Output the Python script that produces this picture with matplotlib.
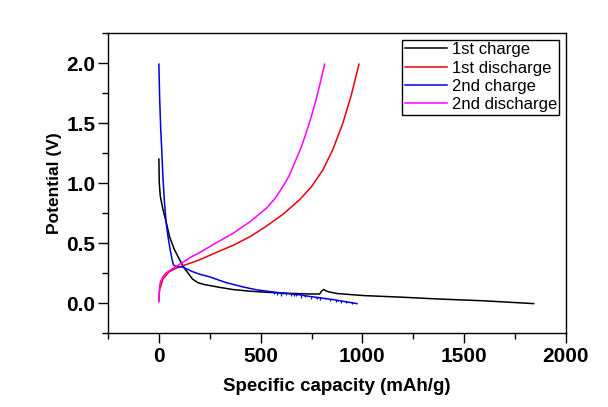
import numpy as np
import matplotlib
matplotlib.use("Agg")
import matplotlib.pyplot as plt
from matplotlib.ticker import MultipleLocator, FormatStrFormatter

plt.rcParams['font.family'] = ['Liberation Sans', 'DejaVu Sans']

# 1st charge
c1_x = [0, 2, 7, 20, 35, 53, 75, 102, 125, 143, 165, 191, 220, 249, 300, 364, 450,
        544, 650, 750, 790, 800, 809, 830, 875, 1006, 1200, 1366, 1600, 1841]
c1_y = [1.20, 1.00, 0.89, 0.78, 0.68, 0.55, 0.45, 0.36, 0.29, 0.25, 0.20, 0.17, 0.155,
        0.146, 0.13, 0.112, 0.098, 0.088, 0.08, 0.075, 0.075, 0.10, 0.112, 0.095, 0.079,
        0.062, 0.048, 0.034, 0.018, -0.005]

# 1st discharge
d1_x = [0, 2, 5, 20, 50, 85, 150, 200, 280, 364, 450, 528, 610, 691, 750, 806, 855,
        904, 945, 983]
d1_y = [0.02, 0.08, 0.12, 0.20, 0.26, 0.29, 0.33, 0.36, 0.42, 0.48, 0.555, 0.64, 0.74,
        0.86, 0.97, 1.11, 1.28, 1.50, 1.73, 1.99]

# 2nd charge
c2_x = [0, 4, 9, 14, 20, 27, 36, 46, 56, 65, 72, 85, 118, 160, 200, 249, 330, 413, 480,
        560, 620, 691, 740, 850, 973]
c2_y = [1.99, 1.70, 1.45, 1.28, 1.05, 0.85, 0.665, 0.54, 0.44, 0.36, 0.316, 0.305, 0.30,
        0.265, 0.24, 0.218, 0.17, 0.134, 0.11, 0.092, 0.08, 0.068, 0.055, 0.03, -0.005]

# noisy dips on the 2nd charge tail
c2_spike_x = [565, 582, 600, 611, 625, 650, 663, 672, 700, 712, 720, 745, 770, 778, 790,
              815, 840, 870, 882, 895, 920, 950]
c2_spike_top = [0.09, 0.088, 0.085, 0.083, 0.08, 0.075, 0.073, 0.071, 0.066, 0.064, 0.062,
                0.054, 0.05, 0.049, 0.046, 0.041, 0.035, 0.028, 0.025, 0.022, 0.016, 0.008]
c2_spike_bot = [0.072, 0.07, 0.06, 0.072, 0.065, 0.055, 0.062, 0.058, 0.045, 0.055, 0.05,
                0.035, 0.04, 0.032, 0.025, 0.03, 0.015, 0.012, 0.014, 0.0, 0.002, -0.01]

# 2nd discharge
d2_x = [0, 1, 3, 8, 20, 35, 53, 80, 118, 160, 200, 280, 364, 450, 528, 570, 609, 640,
        675, 700, 724, 750, 773, 795, 814]
d2_y = [0.01, 0.07, 0.13, 0.18, 0.22, 0.25, 0.27, 0.30, 0.34, 0.385, 0.42, 0.50, 0.58,
        0.68, 0.79, 0.87, 0.97, 1.06, 1.20, 1.30, 1.42, 1.56, 1.70, 1.85, 1.99]

series_labels = ["1st charge", "1st discharge", "2nd charge", "2nd discharge"]
series_colors = ["black", "#e8000b", "#0000e0", "#ff00ff"]

fig = plt.figure(figsize=(6.08, 4.07), dpi=100)
ax = fig.add_axes([0.1776, 0.1818, 0.7533, 0.7371])

ax.plot(c1_x, c1_y, color=series_colors[0], lw=1.1, label=series_labels[0])
ax.plot(d1_x, d1_y, color=series_colors[1], lw=1.1, label=series_labels[1])
ax.plot(c2_x, c2_y, color=series_colors[2], lw=1.1, label=series_labels[2])
ax.vlines(c2_spike_x, c2_spike_bot, c2_spike_top, color=series_colors[2], lw=0.9)
ax.plot(d2_x, d2_y, color=series_colors[3], lw=1.1, label=series_labels[3])

ax.set_xlim(-250, 2000)
ax.set_ylim(-0.25, 2.25)
ax.xaxis.set_major_locator(MultipleLocator(500))
ax.xaxis.set_minor_locator(MultipleLocator(250))
ax.yaxis.set_major_locator(MultipleLocator(0.5))
ax.yaxis.set_minor_locator(MultipleLocator(0.25))
ax.yaxis.set_major_formatter(FormatStrFormatter('%.1f'))

ax.tick_params(which='major', direction='out', length=7, width=1.0, labelsize=15, pad=2)
ax.tick_params(which='minor', direction='out', length=4, width=1.0)
ax.tick_params(axis='x', which='major', pad=3)
for lab in ax.get_xticklabels() + ax.get_yticklabels():
    lab.set_fontweight('bold')
for sp in ax.spines.values():
    sp.set_linewidth(1.0)

ax.set_xlabel("Specific capacity (mAh/g)", fontsize=13.5, fontweight='bold', labelpad=9)
ax.set_ylabel("Potential (V)", fontsize=12.5, fontweight='bold', labelpad=3)

leg = ax.legend(loc='upper right', fontsize=12, frameon=True, fancybox=False,
                edgecolor='black', framealpha=1, handlelength=2.5, handletextpad=0.3,
                labelspacing=0.2, borderpad=0.15, borderaxespad=0.4)
leg.get_frame().set_linewidth(1.0)

fig.savefig("out.png", dpi=100)
